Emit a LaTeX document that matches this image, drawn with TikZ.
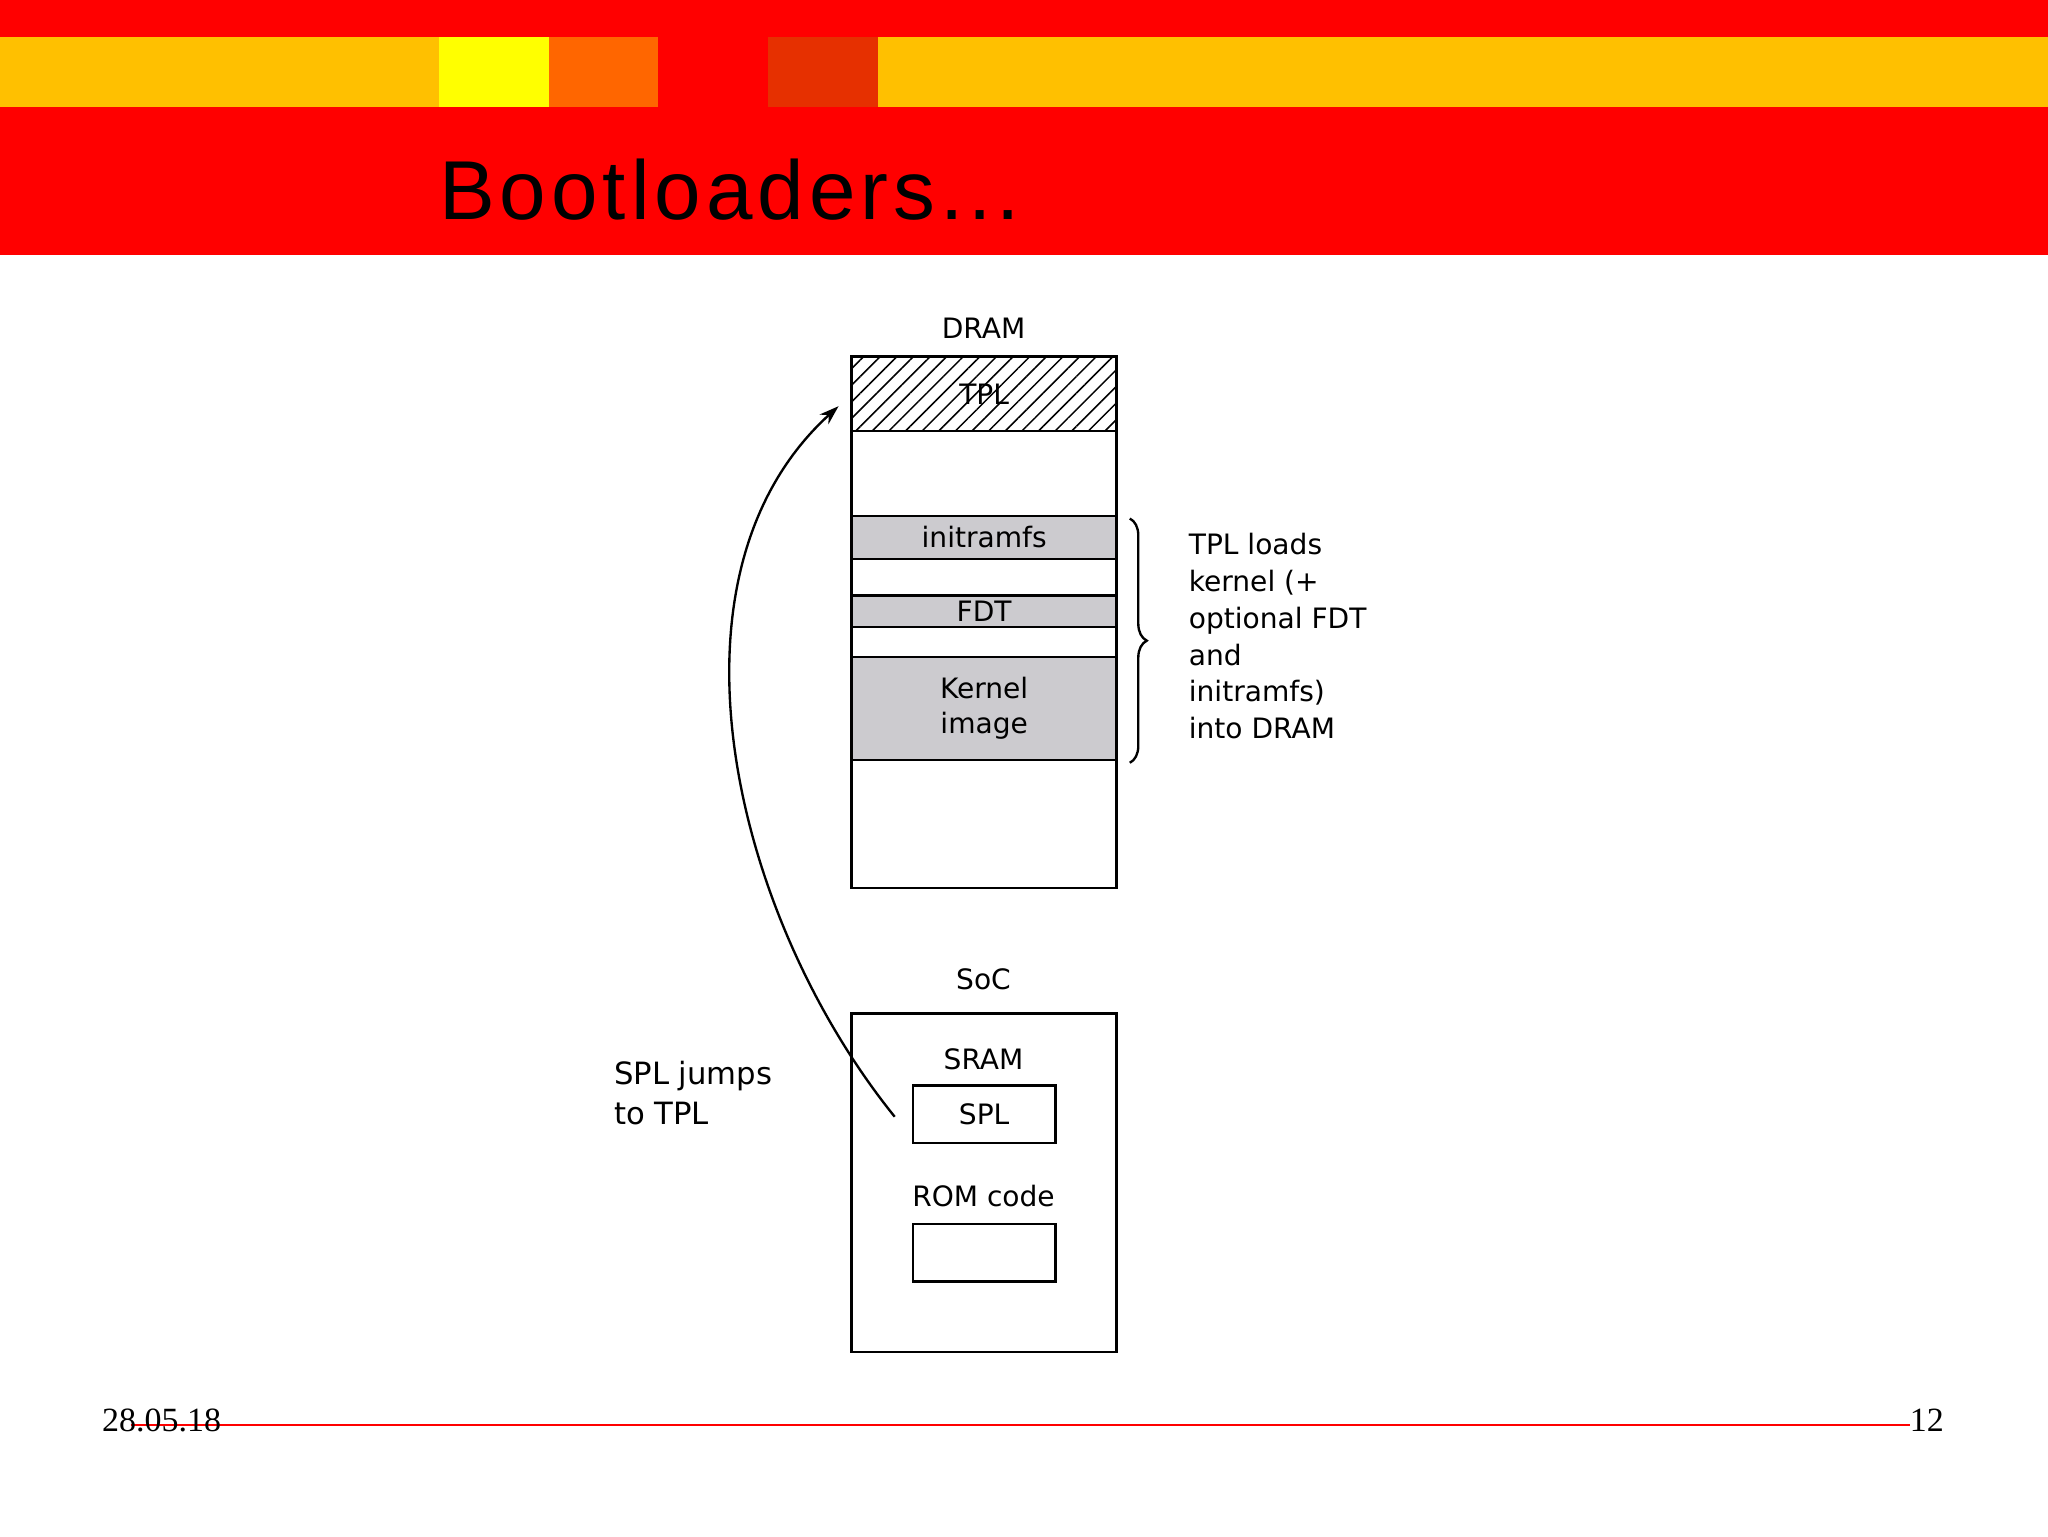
\documentclass[tikz,border=0pt]{standalone}
\usepackage{fontspec}
\setmainfont{DejaVu Sans}
\newfontfamily\serifft{Liberation Serif}
\newfontfamily\titleft[LetterSpace=6]{Liberation Sans}
\usetikzlibrary{patterns.meta,decorations.pathreplacing,arrows.meta}
\definecolor{hred}{HTML}{FF0000}
\definecolor{hamber}{HTML}{FFC000}
\definecolor{hyel}{HTML}{FFFF00}
\definecolor{horange}{HTML}{FF6600}
\definecolor{hdark}{HTML}{E63000}
\definecolor{mgray}{HTML}{CCCBCF}
\tikzset{x=1pt,y=-1pt,
 mem/.style={draw,line width=2pt},
 lbl/.style={font=\fontsize{21.5}{27}\selectfont,inner sep=0pt},
 band/.style={fill=mgray,draw,line width=2pt}}
\begin{document}
\begin{tikzpicture}
\useasboundingbox (0,0) rectangle (1568,1176);
\fill[white] (0,0) rectangle (1568,1176);
\fill[hred] (0,0) rectangle (1568,195);
\fill[hamber] (0,28) rectangle (1568,82);
\fill[hyel] (336,28) rectangle (420,82);
\fill[horange] (420,28) rectangle (504,82);
\fill[hred] (504,28) rectangle (588,82);
\fill[hdark] (588,28) rectangle (672,82);
\node[anchor=base west,inner sep=0pt,font=\titleft\fontsize{64}{70}\selectfont] (title) at (336,168) {Bootloaders...};
% DRAM
\node[lbl] (dramlbl) at (753,251) {DRAM};
\draw[mem] (652,273) rectangle (855,680);
\node[pattern={Lines[angle=45,distance=9pt,line width=1.2pt]},draw,line width=2pt,minimum width=203pt,minimum height=57pt,inner sep=0pt] (tpl) at (753.5,301.5) {};
\node[lbl] at (tpl) {TPL};
\node[band,minimum width=203pt,minimum height=33pt,inner sep=0pt,lbl] (initrd) at (753.5,411.5) {initramfs};
\node[band,minimum width=203pt,minimum height=24pt,inner sep=0pt,lbl] (fdt) at (753.5,468) {FDT};
\node[band,minimum width=203pt,minimum height=79pt,inner sep=0pt,lbl,align=center] (kern) at (753.5,542.5) {Kernel\\image};
\draw[decorate,decoration={brace,amplitude=13pt},line width=1.8pt] (865,397) -- (865,584);
\node[lbl,anchor=north west,align=left,font=\fontsize{21.5}{28.2}\selectfont] (note) at (910,408) {TPL loads\\kernel (+\\optional FDT\\and\\initramfs)\\into DRAM};
% SoC
\node[lbl] (soclbl) at (753,750) {SoC};
\draw[mem] (652,776) rectangle (855,1035);
\node[lbl] (sramlbl) at (753,811) {SRAM};
\node[mem,minimum width=109pt,minimum height=44pt,inner sep=0pt,lbl] (spl) at (753.5,853) {SPL};
\node[lbl] (romlbl) at (753,916) {ROM code};
\node[mem,minimum width=109pt,minimum height=44pt,inner sep=0pt] (rom) at (753.5,959) {};
\coordinate (a0) at (685,855);
\coordinate (a1) at (642,311);
\draw[line width=1.8pt,-{Stealth[length=15pt,width=10pt]}] (a0) .. controls (560,700) and (500,440) .. (a1);
\node[lbl,anchor=north west,align=left,font=\fontsize{23.5}{31}\selectfont] (jump) at (470,812) {SPL jumps\\to TPL};
% footer
\draw[hred,line width=1.8pt] (100,1091) -- (1462,1091);
\node[anchor=base west,inner sep=0pt,font=\serifft\fontsize{26}{28}\selectfont] (date) at (78,1096) {28.05.18};
\node[anchor=base west,inner sep=0pt,font=\serifft\fontsize{26}{28}\selectfont] (page) at (1462,1096) {12};
\end{tikzpicture}
\end{document}
